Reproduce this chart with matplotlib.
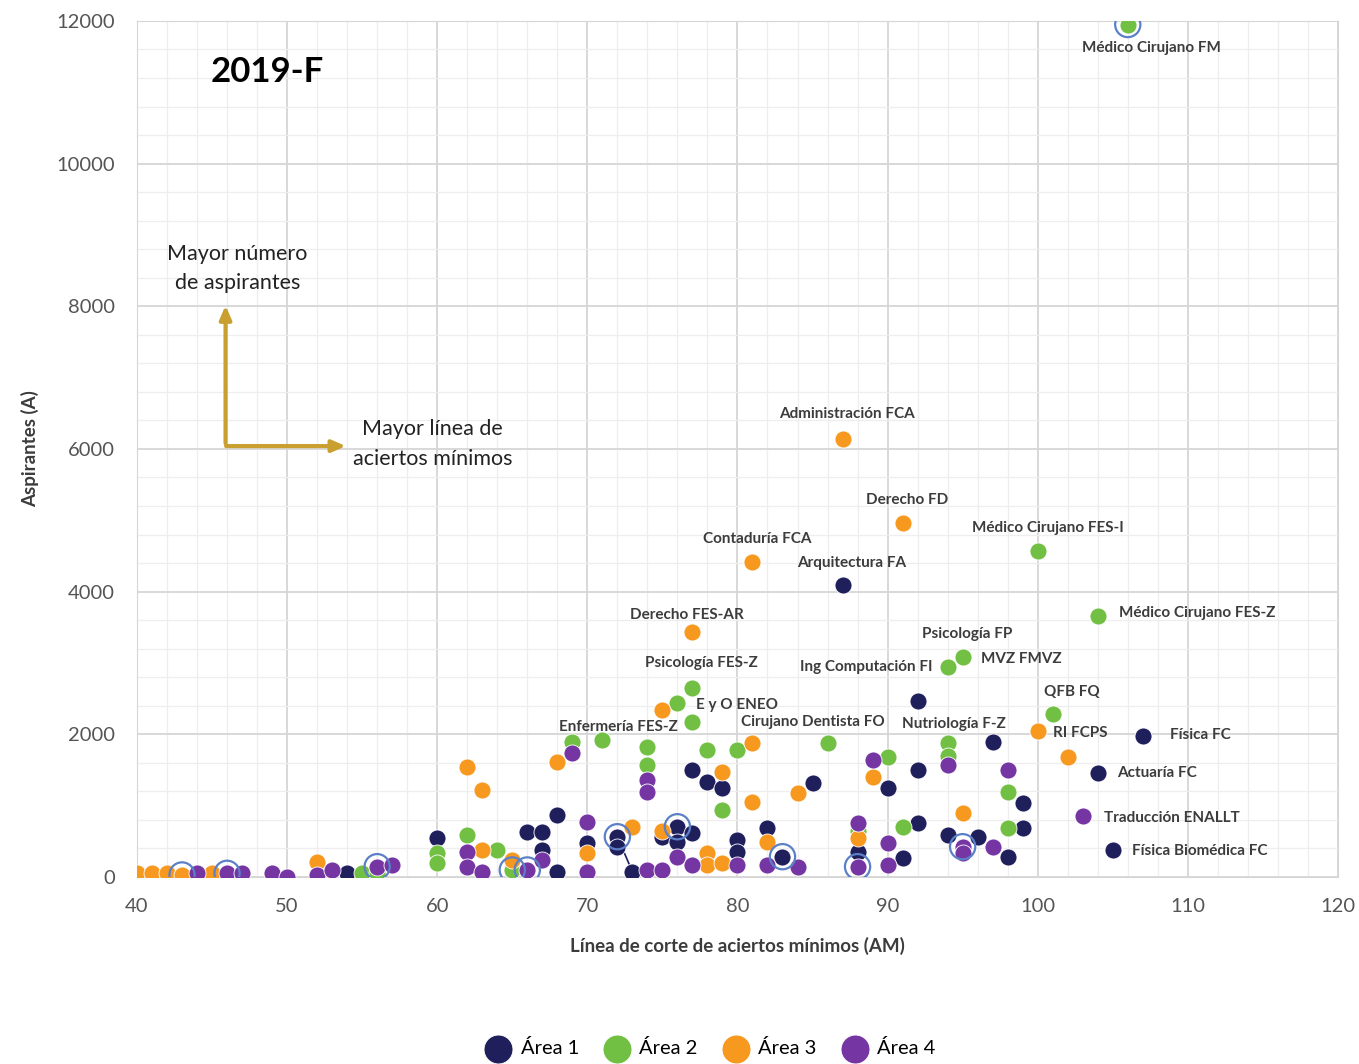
import matplotlib
matplotlib.use("Agg")
import matplotlib.pyplot as plt
from matplotlib.ticker import MultipleLocator

plt.rcParams['font.family'] = ['Lato', 'DejaVu Sans']

# Área 1 (navy)
a1_x = [87, 92, 107, 104, 105, 77, 78, 79, 60, 66, 67, 67, 68, 68, 70, 72, 72, 73, 75, 76,
        76, 77, 80, 80, 90, 92, 97, 99, 85, 82, 83, 88, 91, 92, 94, 96, 98, 99, 54, 66]
a1_y = [4094, 2460, 1977, 1458, 378, 1500, 1336, 1243, 543, 635, 635, 378, 869, 74, 471, 564, 424, 74, 564, 704,
        494, 611, 519, 353, 1241, 1500, 1897, 1032, 1312, 681, 284, 355, 260, 751, 589, 564, 284, 681, 51, 98]

# Área 2 (green)
a2_x = [106, 100, 104, 95, 94, 77, 76, 77, 101, 86, 69, 71, 74, 74, 78, 80, 79, 60, 60, 62,
        64, 65, 90, 94, 94, 98, 88, 91, 98, 55, 56]
a2_y = [11950, 4570, 3659, 3088, 2948, 2650, 2440, 2176, 2280, 1879, 1897, 1920, 1826, 1570, 1780, 1780, 939, 331, 191, 589,
        378, 98, 1687, 1873, 1700, 1196, 650, 704, 681, 51, 60]

# Área 3 (orange)
a3_x = [87, 91, 81, 77, 75, 100, 102, 62, 63, 68, 79, 81, 81, 63, 65, 70, 73, 75, 78, 78,
        79, 89, 84, 82, 88, 95, 40, 41, 42, 43, 45, 52]
a3_y = [6140, 4963, 4416, 3435, 2340, 2040, 1685, 1547, 1220, 1616, 1476, 1874, 1055, 378, 238, 331, 704, 650, 331, 168,
        191, 1405, 1172, 495, 541, 892, 51, 51, 51, 28, 51, 213]

# Área 4 (purple)
a4_x = [103, 69, 74, 74, 62, 62, 63, 66, 67, 70, 70, 76, 77, 74, 75, 80, 89, 94, 98, 82,
        84, 88, 88, 90, 90, 95, 95, 97, 44, 46, 47, 49, 50, 52, 53, 56, 57]
a4_y = [855, 1733, 1360, 1196, 355, 144, 74, 98, 238, 774, 74, 284, 168, 98, 98, 168, 1640, 1570, 1500, 168,
        144, 751, 144, 471, 168, 424, 330, 424, 51, 51, 51, 51, 5, 28, 98, 144, 168]

# highlighted (ringed) points
ring_x = [106, 43, 46, 56, 65, 66, 72, 76, 83, 88, 95]
ring_y = [11950, 28, 51, 144, 98, 98, 564, 704, 284, 144, 424]

# point labels: text, x, y, horizontal alignment
lbl_text = ["Médico Cirujano FM", "Administración FCA", "Derecho FD", "Médico Cirujano FES-I",
            "Contaduría FCA", "Arquitectura FA", "Médico Cirujano FES-Z", "Derecho FES-AR",
            "Psicología FP", "MVZ FMVZ", "Ing Computación FI", "Psicología FES-Z", "QFB FQ",
            "E y O ENEO", "Enfermería FES-Z", "Cirujano Dentista FO", "Nutriología F-Z",
            "RI FCPS", "Física FC", "Actuaría FC", "Traducción ENALLT", "Física Biomédica FC"]
lbl_x = [107.6, 87.3, 91.3, 100.7, 81.3, 87.6, 105.4, 76.6, 95.3, 96.2, 93.0, 77.6, 102.3,
         80.0, 72.1, 85.0, 94.4, 101.0, 108.8, 105.3, 104.4, 106.3]
lbl_y = [11620, 6490, 5285, 4893, 4739, 4402, 3701, 3673, 3407, 3056, 2944, 3000, 2594,
         2411, 2103, 2173, 2145, 2019, 1991, 1458, 827, 365]
lbl_ha = ["center", "center", "center", "center", "center", "center", "left", "center",
          "center", "left", "right", "center", "center", "center", "center", "center", "center",
          "left", "left", "left", "left", "left"]

areas = ["Área 1", "Área 2", "Área 3", "Área 4"]
colors = ["#1f1f5c", "#72c043", "#f7981f", "#7535a3"]

fig = plt.figure(figsize=(13.59, 10.64), dpi=100)
ax = fig.add_axes([0.1008, 0.1758, 0.8837, 0.8045])

#grid
ax.set_xlim(40, 120)
ax.set_ylim(0, 12000)
ax.xaxis.set_major_locator(MultipleLocator(10))
ax.xaxis.set_minor_locator(MultipleLocator(2))
ax.yaxis.set_major_locator(MultipleLocator(2000))
ax.yaxis.set_minor_locator(MultipleLocator(400))
ax.grid(which="major", color="#d6d6d6", linewidth=1.3)
ax.grid(which="minor", color="#eeeeee", linewidth=0.9)
ax.set_axisbelow(True)
for s in ax.spines.values():
    s.set_color("#d6d6d6")
ax.tick_params(which="both", length=0, labelsize=14.5, colors="#555555")
ax.tick_params(axis="x", pad=15)
ax.tick_params(axis="y", pad=16)

#leader line
ax.plot([72, 73], [564, 74], color=colors[0], linewidth=1.2, zorder=2)

#points
for xs, ys, col, name in zip([a1_x, a2_x, a3_x, a4_x], [a1_y, a2_y, a3_y, a4_y], colors, areas):
    ax.scatter(xs, ys, s=150, color=col, edgecolors="white", linewidths=0.6, label=name, zorder=3)
ax.scatter(ring_x, ring_y, s=330, facecolors="none", edgecolors="#5b80c8", linewidths=1.6, zorder=4)

#labels
for t, x, y, ha in zip(lbl_text, lbl_x, lbl_y, lbl_ha):
    ax.text(x, y, t, ha=ha, va="center", fontsize=11, fontweight="bold", color="#3c3c3c", zorder=5)

ax.text(48.7, 11290, "2019-F", ha="center", va="center", fontsize=25, fontweight="bold", color="black")

#arrows
arrow_col = "#c9a030"
ax.annotate("", xy=(45.9, 8050), xytext=(45.9, 6040),
            arrowprops=dict(arrowstyle="-|>,head_length=0.8,head_width=0.35", color=arrow_col, lw=3))
ax.annotate("", xy=(54.1, 6040), xytext=(45.75, 6040),
            arrowprops=dict(arrowstyle="-|>,head_length=0.8,head_width=0.35", color=arrow_col, lw=3))
ax.text(46.7, 8530, "Mayor número\nde aspirantes", ha="center", va="center", fontsize=15.5,
        color="#222222", linespacing=1.6)
ax.text(59.7, 6070, "Mayor línea de\naciertos mínimos", ha="center", va="center", fontsize=15.5,
        color="#222222", linespacing=1.6)

ax.set_xlabel("Línea de corte de aciertos mínimos (AM)", fontsize=13.5, fontweight="bold",
              color="#3c3c3c", labelpad=16)
ax.set_ylabel("Aspirantes (A)", fontsize=13.5, fontweight="bold", color="#3c3c3c", labelpad=12)

fig.legend(loc="lower center", bbox_to_anchor=(0.52, -0.005), ncol=4, frameon=False,
           fontsize=14.5, markerscale=1.7, handletextpad=0.1, columnspacing=0.9, borderaxespad=0.2)

fig.savefig("out.png", dpi=100)
